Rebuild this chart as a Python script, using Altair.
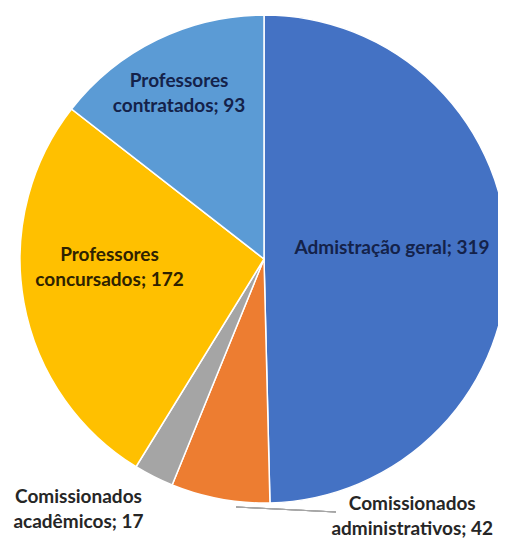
import altair as alt
import pandas as pd

categories = ["Admistração geral", "Comissionados administrativos", "Comissionados acadêmicos",
              "Professores concursados", "Professores contratados"]
values = [319, 42, 17, 172, 93]
labels = ["Admistração geral; 319", "Comissionados\nadministrativos; 42", "Comissionados\nacadêmicos; 17",
          "Professores\nconcursados; 172", "Professores\ncontratados; 93"]
colors = ["#4472C4", "#ED7D31", "#A5A5A5", "#FFC000", "#5B9BD5"]

df = pd.DataFrame({"cat": categories, "value": values, "label": labels, "idx": list(range(len(values)))})

CX, CY, R = 256, 251, 244
FONT = "Lato"

base = alt.Chart(df)

pie = base.mark_arc(outerRadius=R, stroke="white", strokeWidth=1.5).encode(
    theta=alt.Theta("value:Q", stack=True),
    order=alt.Order("idx:Q"),
    color=alt.Color("cat:N", scale=alt.Scale(domain=categories, range=colors), legend=None),
    x=alt.value(CX), y=alt.value(CY),
)

angles = base.transform_joinaggregate(total="sum(value)").transform_window(
    cum="sum(value)", sort=[alt.SortField("idx")], frame=[None, 0]
).transform_calculate(mid="2*PI*(datum.cum - datum.value/2)/datum.total")


def label_layer(cat, radius, color, dx=0, dy=0, align="center"):
    return angles.transform_filter(alt.datum.cat == cat).mark_text(
        font=FONT, fontWeight="bold", fontSize=19, lineBreak="\n", lineHeight=25,
        align=align, baseline="middle", dx=dx, dy=dy, color=color,
    ).encode(
        theta=alt.Theta("mid:Q", scale=None),
        radius=alt.value(radius),
        text="label:N",
        x=alt.value(CX), y=alt.value(CY),
    )


leader = alt.Chart(df).mark_rule(color="#A6A6A6", strokeWidth=1).encode(
    x=alt.value(228), y=alt.value(499), x2=alt.value(328), y2=alt.value(504)
)

chart = alt.layer(
    pie,
    leader,
    label_layer("Admistração geral", 132, "#14224a", dx=-4, dy=-9),
    label_layer("Professores concursados", 157, "#2e2200", dy=-32),
    label_layer("Professores contratados", 198, "#14224a", dx=2),
    label_layer("Comissionados acadêmicos", 260, "#262626", dx=-68, dy=6),
    label_layer("Comissionados administrativos", 260, "#262626", dx=195, dy=-11),
).properties(
    width=490, height=531, padding=0, autosize=alt.AutoSizeParams(type="none")
).configure_view(stroke=None)

chart.save("out.html", embed_options={"renderer": "svg", "actions": False})
